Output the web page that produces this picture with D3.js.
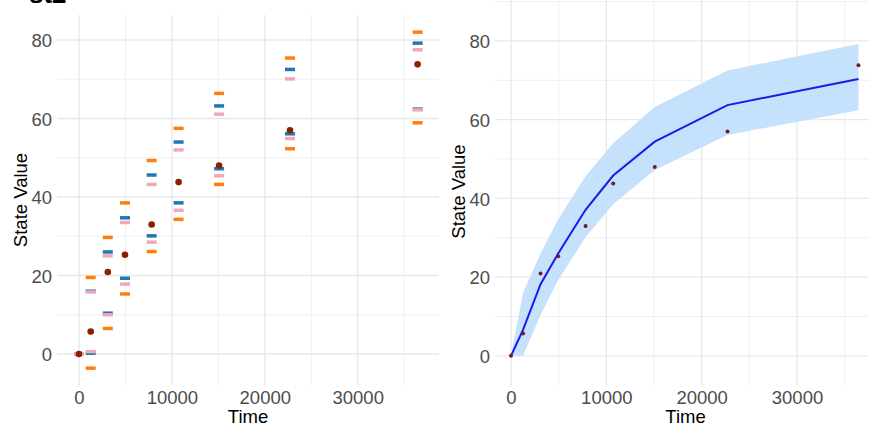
<!DOCTYPE html>
<html>
<head>
<meta charset="utf-8">
<script src="https://cdn.jsdelivr.net/npm/d3@7"></script>
<style>
  body { margin: 0; background: #fff; }
  svg { display: block; font-family: "Liberation Sans", Arial, sans-serif; }
</style>
</head>
<body>
<div id="chart"></div>
<script>
// observation times and observed state
const times = [0, 1260, 3100, 4950, 7820, 10720, 15080, 22710, 36450];
const observed = [0, 5.7, 20.9, 25.3, 33.0, 43.8, 48.0, 57.0, 73.8];

// interval bounds (outer = orange, middle = blue, inner = pink)
const orangeUpper = [0, 19.5, 29.7, 38.5, 49.3, 57.5, 66.4, 75.4, 82.0];
const blueUpper = [0, 16.0, 26.0, 34.7, 45.6, 54.0, 63.2, 72.5, 79.2];
const pinkUpper = [0, 15.8, 25.0, 33.5, 43.2, 52.0, 61.1, 70.1, 77.5];
const pinkLower = [0, 0.6, 10.0, 17.8, 28.5, 36.6, 45.4, 54.9, 62.2];
const blueLower = [0, 0.2, 10.4, 19.3, 30.1, 38.5, 47.2, 56.1, 62.4];
const orangeLower = [0, -3.6, 6.5, 15.3, 26.1, 34.3, 43.2, 52.3, 58.9];

// fitted mean for the right panel
const fitted = [0, 6.6, 18.2, 26.0, 37.1, 45.8, 54.4, 63.7, 70.3];

const xMajor = [0, 10000, 20000, 30000];
const xMinor = [5000, 15000, 25000, 35000];
const yMajor = [0, 20, 40, 60, 80];
const yMinor = [10, 30, 50, 70, 90];

const width = 869;
const height = 433;

const svg = d3
  .select("#chart")
  .append("svg")
  .attr("width", width)
  .attr("height", height);

const defs = svg.append("defs");

function makePanel(id, box, xDomain, yDomain) {
  const x = d3.scaleLinear().domain(xDomain).range([box.left, box.right]);
  const y = d3.scaleLinear().domain(yDomain).range([box.bottom, box.top]);

  defs
    .append("clipPath")
    .attr("id", id)
    .append("rect")
    .attr("x", box.left)
    .attr("y", box.top)
    .attr("width", box.right - box.left)
    .attr("height", box.bottom - box.top);

  const g = svg.append("g").attr("clip-path", `url(#${id})`);

  // minor grid
  g.selectAll(".vminor")
    .data(xMinor)
    .enter()
    .append("line")
    .attr("x1", (d) => x(d))
    .attr("x2", (d) => x(d))
    .attr("y1", box.top)
    .attr("y2", box.bottom)
    .style("stroke", "#f0f0f0")
    .style("stroke-width", 1);
  g.selectAll(".hminor")
    .data(yMinor)
    .enter()
    .append("line")
    .attr("x1", box.left)
    .attr("x2", box.right)
    .attr("y1", (d) => y(d))
    .attr("y2", (d) => y(d))
    .style("stroke", "#f0f0f0")
    .style("stroke-width", 1);

  // major grid
  g.selectAll(".vmajor")
    .data(xMajor)
    .enter()
    .append("line")
    .attr("x1", (d) => x(d))
    .attr("x2", (d) => x(d))
    .attr("y1", box.top)
    .attr("y2", box.bottom)
    .style("stroke", "#e8e8e8")
    .style("stroke-width", 1.3);
  g.selectAll(".hmajor")
    .data(yMajor)
    .enter()
    .append("line")
    .attr("x1", box.left)
    .attr("x2", box.right)
    .attr("y1", (d) => y(d))
    .attr("y2", (d) => y(d))
    .style("stroke", "#e8e8e8")
    .style("stroke-width", 1.3);

  // axes: labels only
  const xAxis = svg
    .append("g")
    .attr("transform", `translate(0, ${box.bottom})`)
    .call(d3.axisBottom(x).tickValues(xMajor).tickSize(0).tickPadding(5).tickFormat(d3.format("d")));
  const yAxis = svg
    .append("g")
    .attr("transform", `translate(${box.left}, 0)`)
    .call(d3.axisLeft(y).tickValues(yMajor).tickSize(0).tickPadding(5));
  [xAxis, yAxis].forEach((a) => {
    a.select(".domain").remove();
    a.selectAll("text")
      .style("font-family", '"Liberation Sans", Arial, sans-serif')
      .style("font-size", "18.5px")
      .style("fill", "#4d4d4d");
  });
  yAxis.selectAll("text").attr("dy", "0.36em");
  xAxis.selectAll("text").attr("dy", "0.74em");

  svg
    .append("text")
    .attr("x", (box.left + box.right) / 2)
    .attr("y", 422.5)
    .attr("text-anchor", "middle")
    .style("font-size", "18.5px")
    .style("fill", "#000")
    .text("Time");

  svg
    .append("text")
    .attr("transform", `translate(${box.left - 30}, ${(box.top + box.bottom) / 2}) rotate(-90)`)
    .attr("text-anchor", "middle")
    .style("font-size", "18.5px")
    .style("fill", "#000")
    .text("State Value");

  return { g, x, y };
}

// ---- left panel: interval dashes ----
const left = makePanel(
  "clip-left",
  { left: 57, right: 439, top: 15, bottom: 385 },
  [-2368, 38751],
  [-7.9, 86.37]
);

const dashSeries = [
  { values: orangeUpper, color: "#ff7f0e" },
  { values: orangeLower, color: "#ff7f0e" },
  { values: blueUpper, color: "#1f77b4" },
  { values: blueLower, color: "#1f77b4" },
  { values: pinkUpper, color: "#f1a7ba" },
  { values: pinkLower, color: "#f1a7ba" },
];

dashSeries.forEach((s) => {
  left.g
    .selectAll(null)
    .data(times.map((t, i) => ({ t, v: s.values[i] })))
    .enter()
    .append("line")
    .attr("x1", (d) => left.x(d.t) - 5)
    .attr("x2", (d) => left.x(d.t) + 5)
    .attr("y1", (d) => left.y(d.v))
    .attr("y2", (d) => left.y(d.v))
    .style("stroke", s.color)
    .style("stroke-width", 3.5);
});

left.g
  .selectAll(".obs")
  .data(times.map((t, i) => ({ t, v: observed[i] })))
  .enter()
  .append("circle")
  .attr("cx", (d) => left.x(d.t))
  .attr("cy", (d) => left.y(d.v))
  .attr("r", 3.3)
  .style("fill", "#8b2000");

// ---- right panel: band + fitted line ----
const right = makePanel(
  "clip-right",
  { left: 495, right: 876, top: -2, bottom: 385 },
  [-1678, 38288],
  [-7.4, 90.9]
);

const bandData = times.map((t, i) => ({ t, lo: blueLower[i], hi: blueUpper[i], m: fitted[i] }));
bandData[1].lo = 0;

right.g
  .append("path")
  .datum(bandData)
  .attr(
    "d",
    d3
      .area()
      .x((d) => right.x(d.t))
      .y0((d) => right.y(d.lo))
      .y1((d) => right.y(d.hi))
  )
  .style("fill", "#c5e1fb");

right.g
  .append("path")
  .datum(bandData)
  .attr(
    "d",
    d3
      .line()
      .x((d) => right.x(d.t))
      .y((d) => right.y(d.m))
  )
  .style("fill", "none")
  .style("stroke", "#1a1aeb")
  .style("stroke-width", 2);

right.g
  .selectAll(".obs")
  .data(times.map((t, i) => ({ t, v: observed[i] })))
  .enter()
  .append("circle")
  .attr("cx", (d) => right.x(d.t))
  .attr("cy", (d) => right.y(d.v))
  .attr("r", 2)
  .style("fill", "#6e1c30");

// cut-off panel title
svg
  .append("text")
  .attr("x", 29)
  .attr("y", 3)
  .style("font-size", "26px")
  .style("font-weight", "bold")
  .style("fill", "#000")
  .text("st2");
</script>
</body>
</html>
